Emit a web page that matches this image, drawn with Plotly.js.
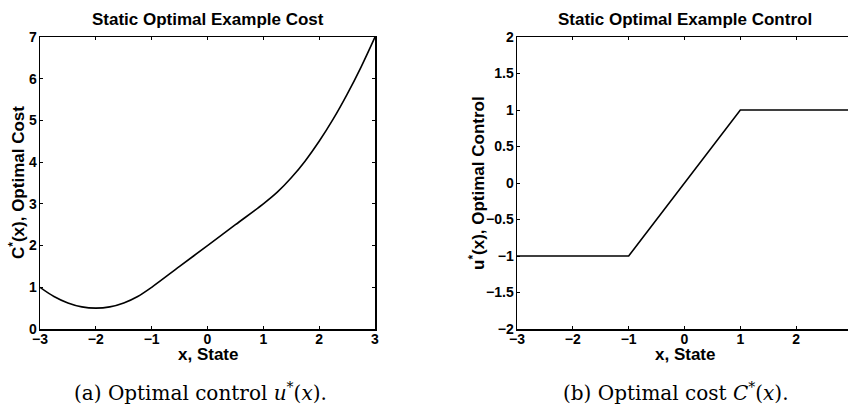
<!DOCTYPE html>
<html>
<head>
<meta charset="utf-8">
<script src="https://cdn.plot.ly/plotly-3.0.1.min.js"></script>
<style>
html,body{margin:0;padding:0;overflow:hidden;background:#fff;width:848px;height:405px;}
#chart{width:852px;height:405px;}
</style>
</head>
<body>
<div id="chart"></div>
<script>
// Left panel: optimal cost C*(x)
const costX = [-3, -2.75, -2.5, -2.25, -2, -1.75, -1.5, -1.25, -1, -0.5, 0, 0.5, 1, 1.25, 1.5, 1.75, 2, 2.25, 2.5, 2.75, 3];
const costY = [1.00, 0.78, 0.625, 0.53, 0.50, 0.53, 0.625, 0.78, 1.00, 1.50, 2.00, 2.50, 3.00, 3.28, 3.625, 4.03, 4.50, 5.03, 5.625, 6.28, 7.00];
// Right panel: optimal control u*(x)
const ctrlX = [-3, -1, 1, 3];
const ctrlY = [-1, -1, 1, 1];

const xTicks = [-3, -2, -1, 0, 1, 2, 3];
const costTicks = [0, 1, 2, 3, 4, 5, 6, 7];
const ctrlTicks = [-2, -1.5, -1, -0.5, 0, 0.5, 1, 1.5, 2];

const titles = ['Static Optimal Example Cost', 'Static Optimal Example Control'];
const xTitle = 'x, State';
const yTitles = ['C<sup>*</sup>(x), Optimal Cost', 'u<sup>*</sup>(x), Optimal Control'];
const captions = ['(a) Optimal control <i>u</i><sup>*</sup>(<i>x</i>).', '(b) Optimal cost <i>C</i><sup>*</sup>(<i>x</i>).'];

const W = 852, H = 405, L = 40, R = 0, T = 37, B = 76;
const pw = W - L - R;
const d1 = [0, (375 - L) / pw];
const d2 = [(517 - L) / pw, 1];

const SANS = 'Liberation Sans, Arial, Helvetica, sans-serif';
const SERIF = 'DejaVu Serif, Liberation Serif, serif';
function sans(size) { return {family: SANS, size: size, color: '#000', weight: 'bold'}; }

function axisX(domain, anchor) {
  return {
    domain: domain, anchor: anchor, range: [-3, 3], tickvals: xTicks,
    ticks: 'inside', ticklen: 3, tickwidth: 1, tickcolor: '#000',
    showline: true, linecolor: '#000', linewidth: 1.5, mirror: 'ticks',
    showgrid: false, zeroline: false, tickfont: sans(14), ticklabelstandoff: -3
  };
}
function axisY(range, ticks, anchor) {
  return {
    range: range, tickvals: ticks, anchor: anchor,
    ticks: 'inside', ticklen: 3, tickwidth: 1, tickcolor: '#000',
    showline: true, linecolor: '#000', linewidth: 1.5, mirror: 'ticks',
    showgrid: false, zeroline: false, tickfont: sans(14), ticklabelstandoff: -1
  };
}

const data = [
  {x: costX, y: costY, xaxis: 'x', yaxis: 'y', type: 'scatter', mode: 'lines',
   line: {color: '#000', width: 1.6, shape: 'spline', smoothing: 1}, hoverinfo: 'skip'},
  {x: ctrlX, y: ctrlY, xaxis: 'x2', yaxis: 'y2', type: 'scatter', mode: 'lines',
   line: {color: '#000', width: 1.6}, hoverinfo: 'skip'}
];

const c1 = (d1[0] + d1[1]) / 2, c2 = (d2[0] + d2[1]) / 2;
const yTitleX = [(17 - L) / pw, (477 - L) / pw];
const ann = [];
[c1, c2].forEach(function (c, i) {
  ann.push({text: titles[i], xref: 'paper', yref: 'paper', x: c, y: 1, yshift: 6,
    xanchor: 'center', yanchor: 'bottom', showarrow: false, font: sans(17)});
  ann.push({text: xTitle, xref: 'paper', yref: 'paper', x: c, y: 0, yshift: -25,
    xanchor: 'center', yanchor: 'middle', showarrow: false, font: sans(17)});
  ann.push({text: yTitles[i], xref: 'paper', yref: 'paper', x: yTitleX[i], y: 0.5,
    xanchor: 'center', yanchor: 'middle', textangle: -90, showarrow: false, font: sans(17)});
});
ann.push({text: captions[0], xref: 'paper', yref: 'paper', x: (200 - L) / pw, y: 0, yshift: -63,
  xanchor: 'center', yanchor: 'middle', showarrow: false,
  font: {family: SERIF, size: 20, color: '#000'}});
ann.push({text: captions[1], xref: 'paper', yref: 'paper', x: (676 - L) / pw, y: 0, yshift: -63,
  xanchor: 'center', yanchor: 'middle', showarrow: false,
  font: {family: SERIF, size: 20, color: '#000'}});

const layout = {
  width: W, height: H,
  margin: {l: L, r: R, t: T, b: B, pad: 0},
  showlegend: false,
  font: {family: SANS, size: 14, color: '#000'},
  paper_bgcolor: '#fff', plot_bgcolor: '#fff',
  xaxis: axisX(d1, 'y'),
  yaxis: axisY([0, 7], costTicks, 'x'),
  xaxis2: axisX(d2, 'y2'),
  yaxis2: axisY([-2, 2], ctrlTicks, 'x2'),
  annotations: ann
};

Plotly.newPlot('chart', data, layout, {staticPlot: true, displayModeBar: false});
</script>
</body>
</html>
